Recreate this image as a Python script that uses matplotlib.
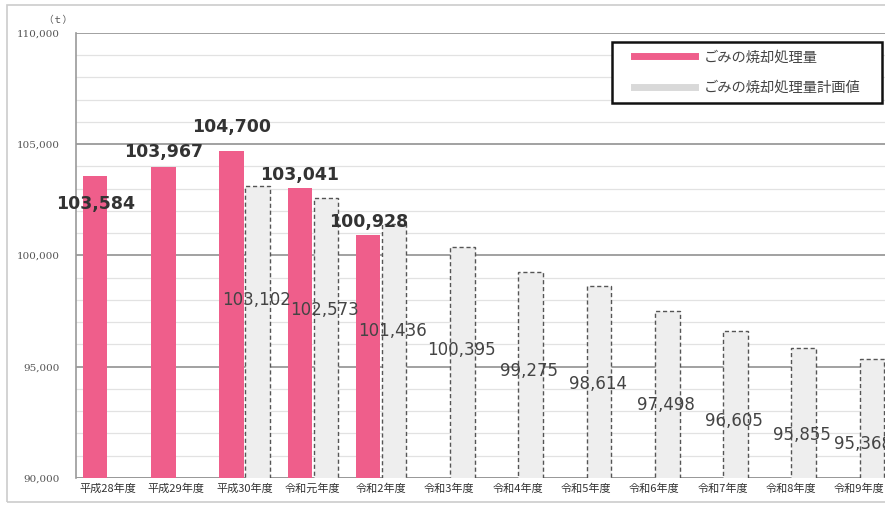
import numpy as np
import matplotlib.pyplot as plt
from matplotlib.patches import Rectangle
from matplotlib.lines import Line2D

plt.rcParams['font.family'] = ['Noto Sans CJK JP', 'DejaVu Sans']

# data
years = ["平成28年度", "平成29年度", "平成30年度", "令和元年度", "令和2年度", "令和3年度",
         "令和4年度", "令和5年度", "令和6年度", "令和7年度", "令和8年度", "令和9年度"]
actual = [103584, 103967, 104700, 103041, 100928]
plan_years = years[2:]
plan = [103102, 102573, 101436, 100395, 99275, 98614, 97498, 96605, 95855, 95368]

PINK = "#EF5E8B"
PLAN_FILL = "#EEEEEE"

fig = plt.figure(figsize=(8.85, 5.05), dpi=100)
# outer frame
fig.patches.append(Rectangle((0.008, 0.006), 1.2, 0.984, transform=fig.transFigure,
                             fill=False, edgecolor="#cccccc", lw=1.2))
ax = fig.add_axes([0.0859, 0.0535, 0.9141, 0.8812])

x = np.arange(len(years))
w = 0.36
off = 0.19

# grid
for v in range(90000, 110001, 1000):
    if v % 5000 == 0:
        ax.axhline(v, color="#9a9a9a", lw=1.3, zorder=0)
    else:
        ax.axhline(v, color="#e2e2e2", lw=0.9, zorder=0)

ax.bar(x[:len(actual)] - off, actual, width=w, color=PINK, zorder=3)
px = x[2:] + off
ax.bar(px, plan, width=w, color=PLAN_FILL, edgecolor="#555555",
       linestyle=(0, (3, 2)), lw=1.0, zorder=3)

ax.set_ylim(90000, 110000)
ax.set_xlim(-0.47, 11.38)
ax.set_yticks(range(90000, 110001, 5000))
ax.set_yticklabels([f"{v:,}" for v in range(90000, 110001, 5000)],
                   fontsize=7.5, color="#555555", family=['DejaVu Serif'])
ax.set_xticks(x)
ax.set_xticklabels(years, fontsize=8, color="#333333")
ax.tick_params(axis='y', length=0, pad=12)
ax.tick_params(axis='x', length=0, pad=4)
for s in ['top', 'right', 'bottom']:
    ax.spines[s].set_visible(False)
ax.spines['left'].set_color("#999999")
ax.spines['left'].set_linewidth(1.2)
ax.axhline(90000, color="#999999", lw=1.3, zorder=2)

# actual labels
act_off = [-1260, 675, 1080, 585, 585]
for i, v in enumerate(actual):
    ax.text(x[i] - off, v + act_off[i], f"{v:,}",
            ha='center', va='center', fontsize=12.5,
            fontweight='bold', color="#333333", zorder=5,
            family=['DejaVu Sans'])

# plan labels
for i, (xi, v) in enumerate(zip(px, plan)):
    ly = v - (3800 + 0.16 * (v - 95000))
    dx = -0.13 if i == len(plan) - 1 else -0.02
    ax.text(xi + dx, ly, f"{v:,}", ha='center', va='center', fontsize=12,
            color="#444444", zorder=5, family=['DejaVu Sans'])

fig.text(0.065, 0.96, "（ｔ）", fontsize=7, color="#555555", ha='center', va='center')

# legend with hand-sized frame
box = (0.6915, 0.796, 0.305, 0.121)
fig.patches.append(Rectangle(box[:2], box[2], box[3], transform=fig.transFigure,
                             facecolor="white", edgecolor="#111111", lw=1.8, zorder=6))
handles = [Line2D([0], [0], color=PINK, lw=5),
           Line2D([0], [0], color="#d9d9d9", lw=5)]
leg = fig.legend(handles, ["ごみの焼却処理量", "ごみの焼却処理量計画値"],
                 loc='center', bbox_to_anchor=box, bbox_transform=fig.transFigure,
                 fontsize=10.3, frameon=False, handlelength=4.3,
                 borderpad=0.3, labelspacing=1.15, handletextpad=0.6)
leg.set_zorder(7)
for t in leg.get_texts():
    t.set_color("#444444")

fig.savefig("out.png", dpi=100)
